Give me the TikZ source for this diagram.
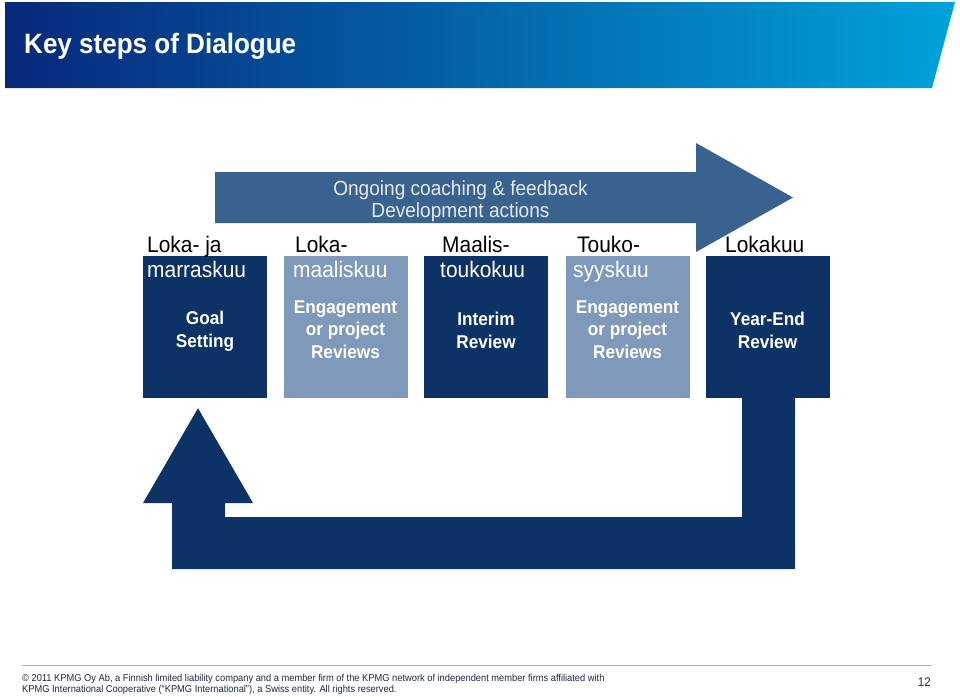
\documentclass[tikz,border=0pt]{standalone}
\usepackage{fontspec}
\setmainfont{Liberation Sans}[FakeStretch=0.93]
\usetikzlibrary{calc,backgrounds}
\definecolor{navy}{RGB}{12,50,102}
\definecolor{lightbox}{RGB}{126,153,186}
\definecolor{toparrow}{RGB}{58,98,142}
\definecolor{hdrL}{RGB}{8,40,122}
\definecolor{hdrM}{RGB}{0,72,150}
\definecolor{hdrR}{RGB}{0,162,218}
\definecolor{arrtxt}{RGB}{228,234,242}
\definecolor{foot}{RGB}{30,40,70}
\definecolor{footline}{RGB}{175,175,175}
\begin{document}
\begin{tikzpicture}[x=1pt,y=-1pt,
  darkbox/.style={rectangle,fill=navy,minimum width=124pt,minimum height=142pt,inner sep=0pt},
  lightstep/.style={darkbox,fill=lightbox},
  boxtxt/.style={anchor=base,align=center,text=white,font=\bfseries\fontsize{18.5}{22.5}\selectfont,inner sep=0pt},
  monthlbl/.style={anchor=base west,inner sep=0pt,font=\fontsize{22.5}{25}\selectfont},
  arrowtxt/.style={anchor=base,align=center,text=arrtxt,inner sep=0pt,font=\fontsize{20.5}{22}\selectfont}
]
\useasboundingbox (0,0) rectangle (960,696);
\fill[white] (0,0) rectangle (960,696);
% header
\shade[left color=hdrL,middle color=hdrM,right color=hdrR] (5,2) -- (955,2) -- (932,88) -- (5,88) -- cycle;
\node[anchor=base west,inner sep=0pt,text=white,font=\bfseries\fontsize{28}{30}\selectfont] (title) at (24,53) {Key steps of Dialogue};

% top arrow
\fill[toparrow] (215,172) -- (696,172) -- (696,143) -- (793,197.5) -- (696,252) -- (696,223) -- (215,223) -- cycle;
\node[arrowtxt] (coach) at (460.5,217) {Ongoing coaching \& feedback\\Development actions};

% boxes
\node[darkbox] (b1) at (205,327) {};
\node[lightstep] (b2) at (345.5,327) {};
\node[darkbox] (b3) at (486,327) {};
\node[lightstep] (b4) at (627.5,327) {};
\node[darkbox] (b5) at (767.5,327) {};

\begin{scope}[on background layer]
  \fill[navy] ($(b1.center)+(0,-20)$) rectangle ($(b5.center)+(0,32)$);
\end{scope}

% month labels
\node[monthlbl] (m1a) at (147,252) {Loka- ja};
\node[monthlbl,text=white] (m1b) at (147,277) {marraskuu};
\node[monthlbl] (m2a) at (295,252) {Loka-};
\node[monthlbl,text=white] (m2b) at (293,277) {maaliskuu};
\node[monthlbl] (m3a) at (442,252) {Maalis-};
\node[monthlbl,text=white] (m3b) at (440,277) {toukokuu};
\node[monthlbl] (m4a) at (577,252) {Touko-};
\node[monthlbl,text=white] (m4b) at (573,277) {syyskuu};
\node[monthlbl] (m5a) at (725,252) {Lokakuu};

% box texts (anchor base = last line's baseline)
\node[boxtxt] (t1) at (205,347) {Goal\\Setting};
\node[boxtxt] (t2) at (345.5,358) {Engagement\\or project\\Reviews};
\node[boxtxt] (t3) at (486,348) {Interim\\Review};
\node[boxtxt] (t4) at (627.5,358) {Engagement\\or project\\Reviews};
\node[boxtxt] (t5) at (767.5,348) {Year-End\\Review};

% return loop arrow
\coordinate (loopend) at ($(b1.south)+(-7,10)$);
\fill[navy] (b5.south) ++(-25.5,0) -- ++(53,0) -- (795,569) -- (172,569) -- (172,503) -- (143,503)
  -- (loopend) -- (253,503) -- (225,503) -- (225,517) -- (742,517) -- cycle;

% footer
\draw[footline,line width=0.8pt] (22,665) -- (932,665);
\node[anchor=base west,inner sep=0pt,align=left,text=foot,font=\fontsize{10}{11.2}\selectfont] (foot) at (22,692.5)
  {© 2011 KPMG Oy Ab, a Finnish limited liability company and a member firm of the KPMG network of independent member firms affiliated with\\
   KPMG International Cooperative (“KPMG International”), a Swiss entity. All rights reserved.};
\node[anchor=base east,inner sep=0pt,text=foot,font=\fontsize{12.5}{14}\selectfont] (page) at (931,686) {12};
\end{tikzpicture}
\end{document}
